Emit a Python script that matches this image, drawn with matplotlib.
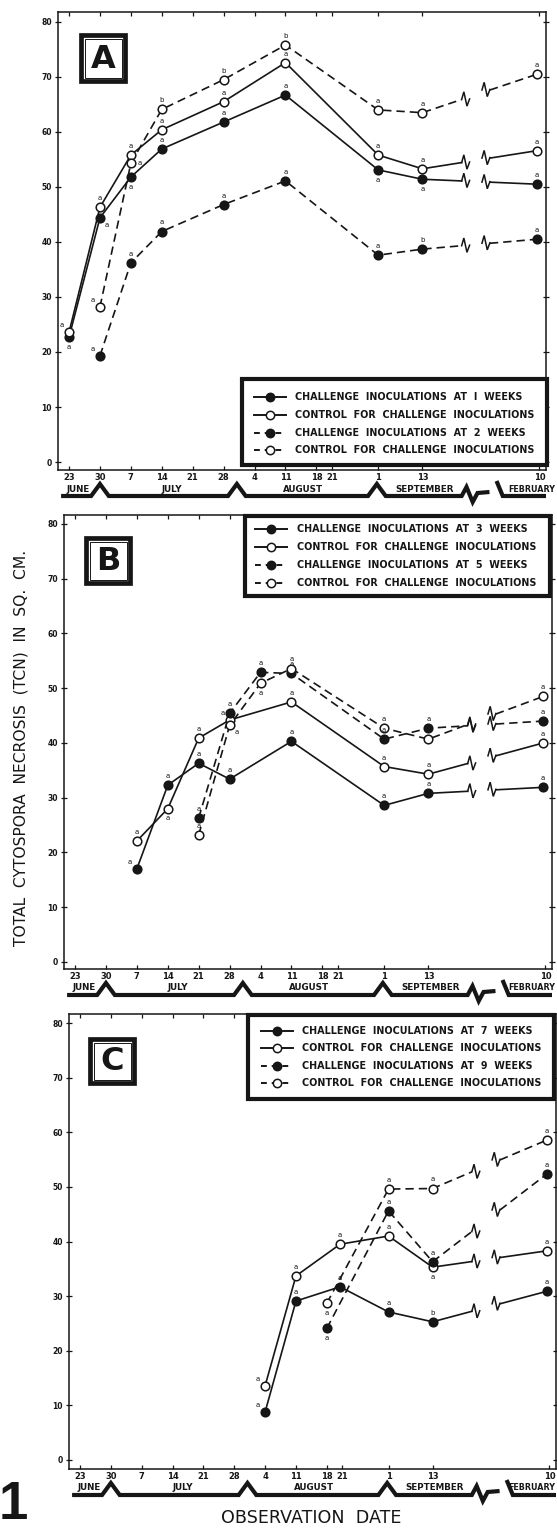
import numpy as np
import matplotlib.pyplot as plt
from matplotlib.patches import Rectangle

W, H = 557, 1531
INK = '#161616'
plt.rcParams['font.family'] = ['DejaVu Sans']

# observation dates as placed on the drawn date axis
# (days after 23 June; 10 February sits behind the axis break)
tick_pos = [0, 7, 14, 21, 28, 35, 42, 49, 56, 59.5, 70, 80, 106.5]
tick_lab = ['23', '30', '7', '14', '21', '28', '4', '11', '18', '21', '1', '13', '10']
months = ['JUNE', 'JULY', 'AUGUST', 'SEPTEMBER', 'FEBRUARY']
month_pos = [2, 23.3, 53, 80.5, 98.2]
y_ticks = [0, 10, 20, 30, 40, 50, 60, 70, 80]

# ---------------- panel A : challenge at 1 and 2 weeks
a_x1 = [0, 7, 14, 21, 35, 49, 70, 80, 106]
a_ch1 = [22.7, 44.4, 51.8, 56.9, 61.8, 66.7, 53.1, 51.4, 50.5]
a_co1 = [23.6, 46.3, 55.8, 60.4, 65.5, 72.6, 55.8, 53.3, 56.6]
a_x2 = [7, 14, 21, 35, 49, 70, 80, 106]
a_ch2 = [19.3, 36.2, 41.9, 46.8, 51.1, 37.6, 38.7, 40.5]
a_co2 = [28.2, 54.3, 64.1, 69.5, 75.8, 64.0, 63.5, 70.5]
a_ch1_sig = ['a', 'a', 'a', 'a', 'a', 'a', 'a', 'a', 'a']
a_co1_sig = ['a', 'a', 'a', 'a', 'a', 'a', 'a', 'a', 'a']
a_ch2_sig = ['a', 'a', 'a', 'a', 'a', 'a', 'b', 'a']
a_co2_sig = ['a', 'a', 'b', 'b', 'b', 'a', 'a', 'a']
a_labels = ['CHALLENGE  INOCULATIONS  AT  I  WEEKS',
            'CONTROL  FOR  CHALLENGE  INOCULATIONS',
            'CHALLENGE  INOCULATIONS  AT  2  WEEKS',
            'CONTROL  FOR  CHALLENGE  INOCULATIONS']

# ---------------- panel B : challenge at 3 and 5 weeks
b_x1 = [14, 21, 28, 35, 49, 70, 80, 106]
b_ch3 = [17.0, 32.3, 36.3, 33.4, 40.3, 28.6, 30.8, 31.9]
b_co3 = [22.1, 28.0, 40.9, 44.2, 47.5, 35.7, 34.3, 40.0]
b_x2 = [28, 35, 42, 49, 70, 80, 106]
b_ch5 = [26.3, 45.4, 52.9, 52.7, 40.7, 42.7, 44.0]
b_co5 = [23.2, 43.2, 50.9, 53.6, 42.7, 40.7, 48.5]
b_ch3_sig = ['a'] * 8
b_co3_sig = ['a'] * 8
b_ch5_sig = ['a'] * 7
b_co5_sig = ['a'] * 7
b_labels = ['CHALLENGE  INOCULATIONS  AT  3  WEEKS',
            'CONTROL  FOR  CHALLENGE  INOCULATIONS',
            'CHALLENGE  INOCULATIONS  AT  5  WEEKS',
            'CONTROL  FOR  CHALLENGE  INOCULATIONS']

# ---------------- panel C : challenge at 7 and 9 weeks
c_x1 = [42, 49, 59, 70, 80, 106]
c_ch7 = [8.8, 29.1, 31.7, 27.1, 25.3, 30.9]
c_co7 = [13.6, 33.7, 39.5, 41.0, 35.3, 38.3]
c_x2 = [56, 70, 80, 106]
c_ch9 = [24.1, 45.6, 36.3, 52.4]
c_co9 = [28.7, 49.6, 49.7, 58.6]
c_ch7_sig = ['a', 'a', 'a', 'a', 'b', 'a']
c_co7_sig = ['a', 'a', 'a', 'a', 'a', 'a']
c_ch9_sig = ['a', 'a', 'a', 'a']
c_co9_sig = ['a', 'a', 'a', 'a']
c_labels = ['CHALLENGE  INOCULATIONS  AT  7  WEEKS',
            'CONTROL  FOR  CHALLENGE  INOCULATIONS',
            'CHALLENGE  INOCULATIONS  AT  9  WEEKS',
            'CONTROL  FOR  CHALLENGE  INOCULATIONS']

# where the significance letter sits relative to its point
OFF = {'u': (0, 6.5), 'd': (0, -7), 'ul': (-5, 5), 'ur': (5, 5),
       'dr': (5, -5), 'dl': (-5, -5), 'r': (6.5, 0), 'l': (-6.5, 0)}

BRK = (88.9, 95.3)


def zig(ax, x0, y0):
    ax.plot([x0, x0 + 0.5, x0 + 1.2, x0 + 1.8], [y0, y0 + 1.4, y0 - 1.2, y0 + 0.1],
            color=INK, lw=1.1, solid_joinstyle='miter', zorder=2)


def draw_series(ax, x, y, filled, dashed, sig, where):
    ls = (0, (5.0, 3.0)) if dashed else '-'
    kw = dict(color=INK, lw=1.2, ls=ls, zorder=2)
    xs, ys = list(x), list(y)
    x0, y0, x1, y1 = xs[-2], ys[-2], xs[-1], ys[-1]
    yb0 = y0 + (y1 - y0) * (BRK[0] - x0) / (x1 - x0)
    yb1 = y0 + (y1 - y0) * (BRK[1] - x0) / (x1 - x0)
    ax.plot(xs[:-1] + [BRK[0]], ys[:-1] + [yb0], **kw)
    ax.plot([BRK[1], x1], [yb1, y1], **kw)
    zig(ax, BRK[0], yb0)
    zig(ax, BRK[1] - 1.8, yb1)
    ax.plot(xs, ys, 'o', ms=6.2, mfc=INK if filled else 'white', mec=INK, mew=1.1, zorder=3)
    for xi, yi, s, w in zip(xs, ys, sig, where):
        ax.annotate(s, (xi, yi), xytext=OFF[w], textcoords='offset points',
                    ha='center', va='center', fontsize=5, color=INK, zorder=4)


def make_panel(l, r, t, b, ylo, yhi):
    ax = fig.add_axes([l / W, 1 - b / H, (r - l) / W, (b - t) / H])
    ax.set_xlim(-2.5, 108)
    ax.set_ylim(ylo, yhi)
    ax.set_xticks(tick_pos, tick_lab)
    ax.set_yticks(y_ticks)
    for lab in ax.get_xticklabels() + ax.get_yticklabels():
        lab.set_fontweight('bold')
    ax.tick_params(axis='x', direction='in', top=True, length=3, width=0.9,
                   labelsize=6, pad=2.5, colors=INK)
    ax.tick_params(axis='y', direction='inout', right=True, length=4, width=0.9,
                   labelsize=5.5, pad=2.5, colors=INK)
    for s in ax.spines.values():
        s.set_linewidth(1.1)
        s.set_color(INK)
    return ax


fig = plt.figure(figsize=(W / 100, H / 100), dpi=100)
fig.patch.set_facecolor('white')

axA = make_panel(58, 546, 12, 470, -1.45, 81.8)
axB = make_panel(64, 552, 515, 969, -1.28, 81.64)
axC = make_panel(69, 556, 1014, 1469, -1.65, 81.65)

draw_series(axA, a_x1, a_ch1, True, False, a_ch1_sig, ['d', 'dr', 'd', 'u', 'u', 'u', 'd', 'd', 'u'])
draw_series(axA, a_x1, a_co1, False, False, a_co1_sig, ['ul', 'u', 'u', 'u', 'u', 'u', 'u', 'u', 'u'])
draw_series(axA, a_x2, a_ch2, True, True, a_ch2_sig, ['ul', 'u', 'u', 'u', 'u', 'u', 'u', 'u'])
draw_series(axA, a_x2, a_co2, False, True, a_co2_sig, ['ul', 'r', 'u', 'u', 'u', 'u', 'u', 'u'])

draw_series(axB, b_x1, b_ch3, True, False, b_ch3_sig, ['ul', 'u', 'u', 'u', 'u', 'u', 'u', 'u'])
draw_series(axB, b_x1, b_co3, False, False, b_co3_sig, ['u', 'd', 'u', 'ul', 'u', 'u', 'u', 'u'])
draw_series(axB, b_x2, b_ch5, True, True, b_ch5_sig, ['u', 'u', 'u', 'u', 'u', 'u', 'u'])
draw_series(axB, b_x2, b_co5, False, True, b_co5_sig, ['u', 'dr', 'd', 'u', 'u', 'u', 'u'])

draw_series(axC, c_x1, c_ch7, True, False, c_ch7_sig, ['ul', 'u', 'u', 'u', 'u', 'u'])
draw_series(axC, c_x1, c_co7, False, False, c_co7_sig, ['ul', 'u', 'u', 'u', 'd', 'u'])
draw_series(axC, c_x2, c_ch9, True, True, c_ch9_sig, ['d', 'u', 'u', 'u'])
draw_series(axC, c_x2, c_co9, False, True, c_co9_sig, ['d', 'u', 'u', 'u'])

# overlay in image pixels for the decorations
ov = fig.add_axes([0, 0, 1, 1])
ov.set_xlim(0, W)
ov.set_ylim(H, 0)
ov.axis('off')


def px(ax, d):
    return ax.transData.transform((d, 0))[0]


def month_bar(ax, base):
    pts = [(-1.8, 26), (5, 26), (7, 14), (9, 26), (36, 26), (38, 14), (40, 26),
           (67.7, 26), (69.7, 14), (71.7, 26), (88.9, 26), (90.0, 17), (91.4, 32),
           (92.5, 23), (95.2, 22)]
    ov.plot([px(ax, d) for d, _ in pts], [base + o for _, o in pts], color=INK,
            lw=3.0, solid_joinstyle='miter', solid_capstyle='butt')
    pts2 = [(96.8, 11), (98.2, 26), (108, 26)]
    ov.plot([px(ax, d) for d, _ in pts2], [base + o for _, o in pts2], color=INK,
            lw=3.0, solid_joinstyle='miter', solid_capstyle='butt')
    for m, d in zip(months[:-1], month_pos[:-1]):
        ov.text(px(ax, d), base + 19, m, ha='center', va='center', fontsize=6.3,
                fontweight='bold', color=INK)
    ov.text(555, base + 19, months[-1], ha='right', va='center', fontsize=5.8,
            fontweight='bold', color=INK)


month_bar(axA, 470)
month_bar(axB, 969)
month_bar(axC, 1469)


def legend_box(x0, y0, x1, y1, rows, lx0, lx1, tx, labels):
    ov.add_patch(Rectangle((x0 + 2, y0 + 2), x1 - x0 - 4, y1 - y0 - 4, fc='white',
                           ec=INK, lw=3.0, joinstyle='miter'))
    styles = [(True, False), (False, False), (True, True), (False, True)]
    for yy, (filled, dashed), lab in zip(rows, styles, labels):
        ov.plot([lx0, lx1], [yy, yy], color=INK, lw=1.4,
                ls=(0, (3.0, 2.5)) if dashed else '-')
        ov.plot([(lx0 + lx1) / 2], [yy], 'o', ms=6, mfc=INK if filled else 'white',
                mec=INK, mew=1.1)
        ov.text(tx, yy, lab, ha='left', va='center', fontsize=6.9,
                fontweight='bold', color=INK)


legend_box(240, 377, 549, 467, [397, 415, 433, 450], 254, 286, 295, a_labels)
legend_box(243, 514, 552, 598, [529, 547, 565, 583], 255, 287, 297, b_labels)
legend_box(246, 1013, 556, 1101, [1031, 1048, 1066, 1083], 261, 293, 302, c_labels)


def tag(x0, y0, x1, y1, letter):
    ov.add_patch(Rectangle((x0 + 2, y0 + 2), x1 - x0 - 4, y1 - y0 - 4, fc='white',
                           ec=INK, lw=3.4, joinstyle='miter'))
    ov.add_patch(Rectangle((x0 + 5.5, y0 + 5.5), x1 - x0 - 11, y1 - y0 - 11, fc='none',
                           ec=INK, lw=0.7))
    ov.text((x0 + x1) / 2, (y0 + y1) / 2 + 1, letter, ha='center', va='center',
            fontsize=23, fontweight='heavy', color=INK)


tag(79, 33, 127, 83, 'A')
tag(84, 536, 132, 585, 'B')
tag(88, 1037, 136, 1085, 'C')

fig.text(21 / W, 1 - 748 / H, 'TOTAL  CYTOSPORA  NECROSIS  (TCN)  IN  SQ.  CM.',
         rotation=90, ha='center', va='center', fontsize=11.2, color=INK)
fig.text(311 / W, 1 - 1518 / H, 'OBSERVATION  DATE', ha='center', va='center',
         fontsize=12.6, color=INK)
fig.text(13 / W, 1 - 1505 / H, '1', ha='center', va='center', fontsize=38,
         fontweight='heavy', family=['Liberation Sans', 'DejaVu Sans'], color=INK)

fig.savefig('out.png', dpi=100, facecolor='white')
